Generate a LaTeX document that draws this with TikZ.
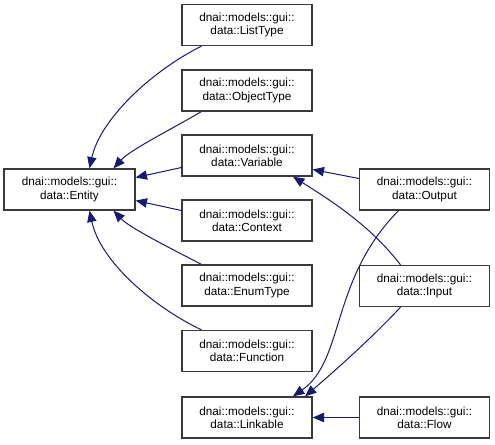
\documentclass[tikz,border=0pt]{standalone}
\usepackage{fontspec}
\setmainfont{Liberation Sans}
\usetikzlibrary{arrows.meta,calc}
\definecolor{edgeblue}{HTML}{191970}
\definecolor{boxgray}{HTML}{3A3A3A}
\tikzset{
  cls/.style={draw=boxgray, line width=1pt, fill=white, minimum width=97.5pt, minimum height=30.75pt, align=center, inner sep=0pt, font=\fontsize{8.8}{9.9}\selectfont},
  arr/.style={draw=edgeblue, line width=0.75pt, -{Triangle[length=8.5pt,width=7pt]}}
}
\begin{document}
\begin{tikzpicture}[x=0.75pt,y=-0.75pt]
\useasboundingbox (0,0) rectangle (495,444);
\node[cls, minimum width=98.25pt] (ent) at (69.5,189.5) {dnai::models::gui::\\data::Entity};
\node[cls] (lt) at (247,25) {dnai::models::gui::\\data::ListType};
\node[cls] (ot) at (247,90.5) {dnai::models::gui::\\data::ObjectType};
\node[cls] (var) at (247,155.5) {dnai::models::gui::\\data::Variable};
\node[cls] (ctx) at (247,220.5) {dnai::models::gui::\\data::Context};
\node[cls] (en) at (247,285.5) {dnai::models::gui::\\data::EnumType};
\node[cls] (fn) at (247,351) {dnai::models::gui::\\data::Function};
\node[cls] (lk) at (247,417.5) {dnai::models::gui::\\data::Linkable};
\node[cls] (out) at (424.5,189.5) {dnai::models::gui::\\data::Output};
\node[cls] (inp) at (424.5,286) {dnai::models::gui::\\data::Input};
\node[cls] (flow) at (424.5,417.5) {dnai::models::gui::\\data::Flow};
% to Entity
\draw[arr] ($(lt.south west)+(20,0)$) .. controls (150,72) and (100,120) .. ($(ent.north)+(20,0)$);
\draw[arr] ($(ot.south west)+(20,0)$) .. controls (170,130) and (130,150) .. ($(ent.north)+(44,0)$);
\draw[arr] ($(var.west)+(0,12)$) -- ($(ent.east)+(0,-12)$);
\draw[arr] ($(ctx.west)+(0,-10)$) -- ($(ent.east)+(0,11)$);
\draw[arr] ($(en.north west)+(20,0)$) .. controls (170,248) and (130,228) .. ($(ent.south)+(44,0)$);
\draw[arr] ($(fn.north west)+(20,0)$) .. controls (150,305) and (100,260) .. ($(ent.south)+(20,0)$);
% to Variable
\draw[arr] ($(out.west)+(0,-11)$) -- ($(var.east)+(0,14)$);
\draw[arr] ($(inp.north)+(-24,0)$) .. controls (370,225) and (330,200) .. ($(var.south)+(46,0)$);
% to Linkable
\draw[arr] ($(out.south)+(-26,0)$) .. controls (330,280) and (345,360) .. ($(lk.north)+(46,0)$);
\draw[arr] ($(inp.south)+(-24,0)$) .. controls (370,340) and (330,375) .. ($(lk.north)+(58,0)$);
\draw[arr] (flow.west) -- (lk.east);
\end{tikzpicture}
\end{document}
